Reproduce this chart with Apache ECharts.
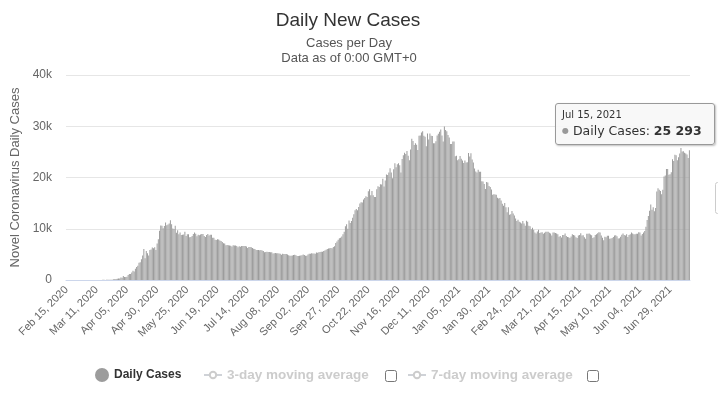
<!DOCTYPE html>
<html>
<head>
<meta charset="utf-8">
<script src="https://cdn.jsdelivr.net/npm/echarts@6/dist/echarts.min.js"></script>
<style>
html,body{margin:0;padding:0;background:#fff;}
#chart{width:718px;height:394px;}
</style>
</head>
<body>
<div id="chart"></div>
<script>
// ---- DATA ----
const startDate = '2020-02-15';
const seriesName = 'Daily Cases';
const dailyCases = [
0,0,0,0,0,0,0,
0,0,0,0,0,0,0,
0,0,1,0,0,0,1,
6,3,0,2,8,3,14,
11,4,29,33,21,52,54,
53,62,71,57,163,182,196,
228,270,302,500,440,771,601,
582,658,954,1154,1175,1459,1786,
1667,2186,2558,2774,3388,3448,4070,
4785,6060,4268,5642,5236,4774,5849,
5966,6361,6198,6411,5841,7099,7933,
9623,10633,10581,10102,10559,11231,10699,
10817,11012,11656,10899,10028,9974,10598,
9200,9709,8926,9263,8764,8849,8894,
9434,8599,8946,8915,8338,8371,8572,
8952,9268,9035,8536,8831,8726,8855,
8984,8985,8595,8404,8779,8987,8706,
8835,8835,8246,8248,7843,7790,7972,
7889,7728,7600,7425,7176,7113,6800,
6852,6791,6719,6693,6556,6760,6718,
6736,6611,6368,6562,6509,6635,6611,
6615,6611,6537,6248,6422,6428,6406,
6234,6109,6065,5842,5862,5848,5811,
5871,5765,5635,5395,5475,5509,5482,
5462,5427,5394,5159,5204,5267,5241,
5212,5189,5118,4945,5102,5057,5061,
5065,4969,4839,4718,4748,4785,4870,
4921,4852,4696,4676,4711,4758,4829,
4980,4897,4729,4729,4952,5110,5110,
5205,5195,5185,5099,5363,5310,5406,
5449,5509,5529,5670,5762,5905,6065,
6148,6196,6234,6215,6431,6595,7212,
7523,7867,8135,8232,8481,8945,9412,
10499,10888,10019,11615,11115,11493,12126,
12846,13634,13868,13592,14231,14926,15150,
15099,15700,15982,16319,16202,17340,17717,
16521,17347,16550,16202,16202,17717,18283,
18140,18665,18648,19768,18257,19404,20582,
20498,20977,21798,20977,19851,21608,22778,
21983,22572,22778,22410,20985,23610,24318,
24822,24581,25173,24236,23351,25487,27543,
27100,26338,26683,26402,25345,28145,28209,
28782,29039,28137,27927,26097,28585,27403,
28585,28137,28080,26689,26689,27089,28214,
28552,28948,29350,28209,27039,29935,29258,
29018,28284,27787,26513,26513,27039,27029,
24150,24246,23351,23541,24217,23652,23309,
22851,23315,22934,23000,24763,24092,24715,
23510,22919,21734,21152,20998,21513,21127,
21127,19290,19238,18717,17741,19138,19032,
18359,18150,17648,16643,16714,16688,16627,
16048,15916,15977,15533,14861,14494,15006,
14185,13233,14207,12742,12828,13447,12953,
12604,12022,11534,11749,11359,11198,11024,
11534,11022,10565,11571,11385,10595,10498,
9908,10200,9802,9270,9079,9445,9803,
9157,9288,9336,9016,9199,9393,9437,
9428,9212,9058,8707,9284,9256,9150,
9064,8910,8440,8583,8276,8773,8789,
9093,8596,8406,8341,8203,8466,8906,
8763,8672,8324,8173,8671,8788,9098,
8705,8709,8320,8053,9012,9035,9077,
8863,8709,8195,8329,8773,8950,9110,
9296,9270,8697,8247,7734,8419,8328,
8633,8618,8040,8092,8217,8380,8672,
8744,8554,8084,8161,8419,8806,9054,
8791,8686,8951,8398,8787,8947,9252,
9068,8951,8947,9035,9039,9327,9247,
8697,8983,9252,9555,10407,11699,12505,
13510,14723,13721,14185,13397,14057,17262,
17906,17611,17378,16715,17594,20182,20393,
21665,21650,20538,20616,21042,23543,23218,
24439,24353,23378,23962,24702,25766,25082,
25142,24818,24702,24471,23827,25293
];
const yTicks = [0, 10000, 20000, 30000, 40000];
const tickLabels = ['Feb 15, 2020','Mar 11, 2020','Apr 05, 2020','Apr 30, 2020','May 25, 2020','Jun 19, 2020','Jul 14, 2020','Aug 08, 2020','Sep 02, 2020','Sep 27, 2020','Oct 22, 2020','Nov 16, 2020','Dec 11, 2020','Jan 05, 2021','Jan 30, 2021','Feb 24, 2021','Mar 21, 2021','Apr 15, 2021','May 10, 2021','Jun 04, 2021','Jun 29, 2021'];
const legendNames = ['Daily Cases', '3-day moving average', '7-day moving average'];

// categories: one date per value
const MONTHS = ['Jan','Feb','Mar','Apr','May','Jun','Jul','Aug','Sep','Oct','Nov','Dec'];
const categories = [];
{
  const d0 = new Date(startDate + 'T00:00:00Z');
  for (let i = 0; i < dailyCases.length; i++) {
    const d = new Date(d0.getTime() + i * 86400000);
    const dd = String(d.getUTCDate()).padStart(2, '0');
    categories.push(MONTHS[d.getUTCMonth()] + ' ' + dd + ', ' + d.getUTCFullYear());
  }
}
const tickSet = new Set(tickLabels);

const FONT = '"Liberation Sans", Arial, sans-serif';
const TIPFONT = "'DejaVu Sans', sans-serif";
const chart = echarts.init(document.getElementById('chart'), null, {renderer: 'canvas'});
const fmtNum = v => String(v).replace(/\B(?=(\d{3})+(?!\d))/g, ' ');

chart.setOption({
  animation: false,
  backgroundColor: '#fff',
  textStyle: {fontFamily: FONT},
  title: [
    {text: 'Daily New Cases', left: 343, top: 6, textAlign: 'center',
     textStyle: {fontSize: 19, fontWeight: 'normal', color: '#333', fontFamily: FONT}},
    {text: 'Cases per Day\nData as of 0:00 GMT+0', left: 344, top: 31, textAlign: 'center',
     textStyle: {fontSize: 13, lineHeight: 15, fontWeight: 'normal', color: '#555', fontFamily: FONT}}
  ],
  grid: {left: 66, right: 28, top: 75, bottom: 114, containLabel: false},
  tooltip: {
    trigger: 'item',
    triggerOn: 'none',
    alwaysShowContent: true,
    transitionDuration: 0,
    position: [555, 103],
    backgroundColor: 'rgba(247,247,247,0.92)',
    borderColor: '#999',
    borderWidth: 1,
    borderRadius: 3,
    padding: [4, 6, 4, 6],
    extraCssText: 'box-shadow: 1px 1px 2px rgba(0,0,0,0.25); width:146px;',
    formatter: function (p) {
      return '<div style="font-family:' + TIPFONT + ';color:#333;">' +
        '<div style="font-size:10px;line-height:14px;">' + p.name.replace(/ 0(\d),/, ' $1,') + '</div>' +
        '<div style="font-size:12.5px;line-height:18px;white-space:nowrap;"><span style="color:#999;font-size:8px;vertical-align:2px;">&#9679;</span> ' +
        p.seriesName + ': <b>' + fmtNum(p.value) + '</b></div></div>';
    }
  },
  legend: [
    {data: [legendNames[0]], left: 90, top: 363, icon: 'circle', itemWidth: 14, itemHeight: 14, itemGap: 6,
     textStyle: {fontSize: 12, fontWeight: 'bold', color: '#333', fontFamily: FONT}, selectedMode: false},
    {data: [legendNames[1]], left: 198, top: 363, itemWidth: 18, itemHeight: 8, inactiveColor: '#ccc',
     selected: {'3-day moving average': false}, selectedMode: false,
     textStyle: {fontSize: 13.5, fontWeight: 'bold', color: '#ccc', fontFamily: FONT}},
    {data: [legendNames[2]], left: 402, top: 363, itemWidth: 18, itemHeight: 8, inactiveColor: '#ccc',
     selected: {'7-day moving average': false}, selectedMode: false,
     textStyle: {fontSize: 13.5, fontWeight: 'bold', color: '#ccc', fontFamily: FONT}}
  ],
  xAxis: {
    type: 'category',
    data: categories,
    axisLine: {lineStyle: {color: '#ccd6eb'}},
    axisTick: {show: false},
    axisLabel: {
      interval: function (i, v) { return tickSet.has(v); },
      rotate: 45, margin: 8, fontSize: 11, color: '#666', fontFamily: FONT
    }
  },
  yAxis: {
    type: 'value',
    min: yTicks[0], max: yTicks[yTicks.length - 1], interval: 10000,
    name: 'Novel Coronavirus Daily Cases',
    nameLocation: 'middle', nameGap: 42,
    nameTextStyle: {fontSize: 13, color: '#666', fontFamily: FONT},
    axisLabel: {margin: 14, fontSize: 12, color: '#666', fontFamily: FONT,
      formatter: v => v === 0 ? '0' : (v / 1000) + 'k'},
    splitLine: {lineStyle: {color: '#e6e6e6'}}
  },
  series: [
    {name: legendNames[0], type: 'bar', data: dailyCases, barCategoryGap: '20%',
     itemStyle: {color: '#9c9c9c'}, emphasis: {disabled: true}},
    {name: legendNames[1], type: 'line', data: [], itemStyle: {color: '#999'}},
    {name: legendNames[2], type: 'line', data: [], itemStyle: {color: '#999'}}
  ],
  graphic: [
    {type: 'rect', shape: {x: 385.5, y: 370.5, width: 11, height: 11, r: 2},
     style: {fill: '#fff', stroke: '#777', lineWidth: 1}},
    {type: 'rect', shape: {x: 587.5, y: 370.5, width: 11, height: 11, r: 2},
     style: {fill: '#fff', stroke: '#777', lineWidth: 1}},
    {type: 'rect', shape: {x: 715.5, y: 182.5, width: 20, height: 31, r: 2},
     style: {fill: '#fff', stroke: '#ccc', lineWidth: 1}}
  ]
});
chart.dispatchAction({type: 'showTip', seriesIndex: 0, dataIndex: dailyCases.length - 1});
</script>
</body>
</html>
